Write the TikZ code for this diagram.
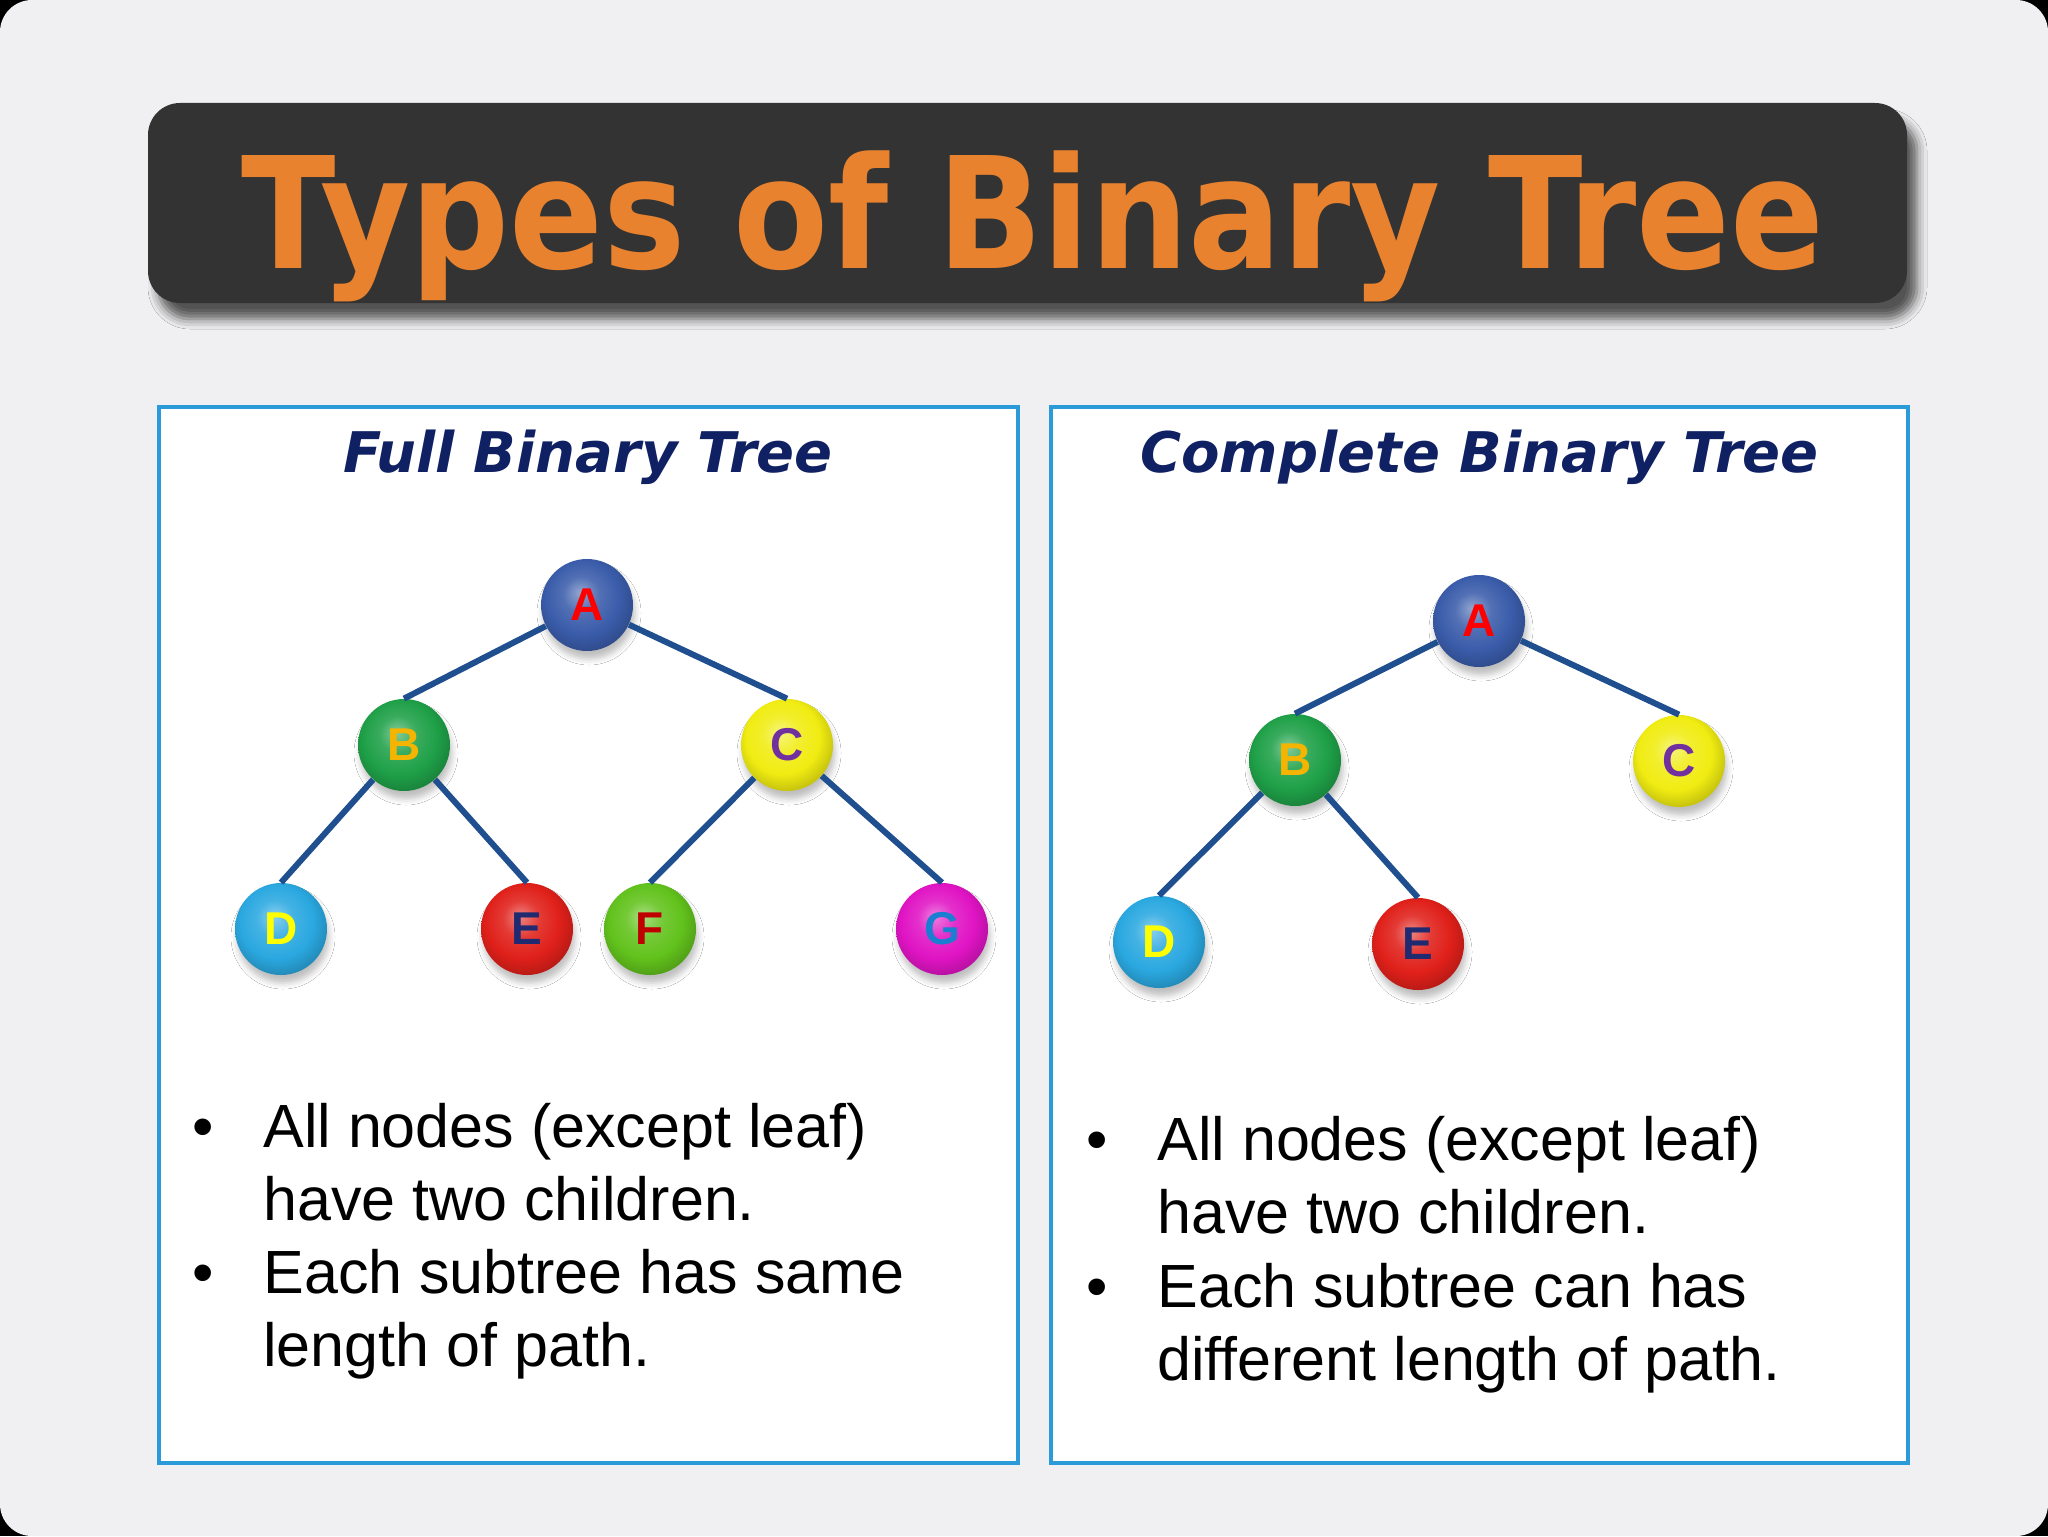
\documentclass[tikz,border=0pt]{standalone}
\usepackage{fontspec}
\usepackage{graphicx}
\setmainfont{Liberation Sans}
\newfontfamily\djv{DejaVu Sans}
\usetikzlibrary{shadows.blur}
\definecolor{bgc}{HTML}{F0F0F2}
\definecolor{barc}{HTML}{333333}
\definecolor{orangec}{HTML}{E8822E}
\definecolor{navyc}{HTML}{0F2063}
\definecolor{panelc}{HTML}{2A9BD8}
\definecolor{linec}{HTML}{1F4F8F}
\definecolor{cA}{HTML}{3A5CAA}
\definecolor{cB}{HTML}{1FA048}
\definecolor{cC}{HTML}{F0EC12}
\definecolor{cD}{HTML}{2AA8E0}
\definecolor{cE}{HTML}{E0201A}
\definecolor{cF}{HTML}{62C21C}
\definecolor{cG}{HTML}{E014C4}
\definecolor{tA}{HTML}{FF0000}
\definecolor{tB}{HTML}{F5B400}
\definecolor{tC}{HTML}{7030A0}
\definecolor{tD}{HTML}{FFFF00}
\definecolor{tE}{HTML}{1F2A70}
\definecolor{tF}{HTML}{C00000}
\definecolor{tG}{HTML}{1A7FD0}
\colorlet{ballc}{gray}
\pgfdeclareradialshading[ballc]{softball}{\pgfpoint{-4bp}{7bp}}{%
  color(0bp)=(ballc!55!white); color(10bp)=(ballc!88!white);
  color(20bp)=(ballc); color(27bp)=(ballc!85!black);
  color(34bp)=(ballc!70!black); color(50bp)=(ballc!70!black)}
\tikzset{
  ball/.style={circle, minimum size=46pt, inner sep=0pt,
    font=\bfseries\fontsize{23}{23}\selectfont,
    /utils/exec={\colorlet{ballc}{#1}}, shading=softball,
    blur shadow={shadow xshift=1pt, shadow yshift=-4pt, shadow blur radius=3pt, shadow opacity=25}},
  treeline/.style={draw=linec, line width=3pt},
  panel/.style={draw=panelc, line width=2pt, fill=white},
  paneltitle/.style={anchor=base, text=navyc, font=\djv\bfseries\itshape\fontsize{28}{30}\selectfont},
  titletext/.style={anchor=base, text=orangec, font=\djv\bfseries\fontsize{77.5}{80}\selectfont},
  bodytext/.style={anchor=base west, text=black, font=\fontsize{30.5}{36}\selectfont, inner sep=0pt},
  bullet/.style={anchor=base, text=black, font=\fontsize{30.5}{36}\selectfont, inner sep=0pt}
}
\begin{document}
\begin{tikzpicture}[x=0.5pt,y=-0.5pt]
\useasboundingbox (0,0) rectangle (2048,1536);
\fill[black] (0,0) rectangle (2048,1536);
\fill[bgc, rounded corners=16pt] (0,0) rectangle (2048,1536);
% title bar
\fill[barc, rounded corners=16pt, blur shadow={shadow xshift=5pt, shadow yshift=-8pt, shadow blur radius=5pt, shadow opacity=65}] (148,103) rectangle (1907,303);
\node[titletext] (title) at (1033,268) {\scalebox{0.893}[1]{Types of Binary Tree}};
% panels
\draw[panel] (159,407) rectangle (1018,1463);
\draw[panel] (1051,407) rectangle (1908,1463);
\node[paneltitle] (t1) at (588,472) {Full Binary Tree};
\node[paneltitle] (t2) at (1479.5,472) {Complete Binary Tree};
% left tree
\node[ball=cA, text=tA] (LA) at (587,605) {A};
\node[ball=cB, text=tB] (LB) at (404,745) {B};
\node[ball=cC, text=tC] (LC) at (787,745) {C};
\node[ball=cD, text=tD] (LD) at (281,929) {D};
\node[ball=cE, text=tE] (LE) at (527,929) {E};
\node[ball=cF, text=tF] (LF) at (650,929) {F};
\node[ball=cG, text=tG] (LG) at (942,929) {G};
\draw[treeline] (LA) -- (LB.north);
\draw[treeline] (LA) -- (LC.north);
\draw[treeline] (LB) -- (LD.north);
\draw[treeline] (LB) -- (LE.north);
\draw[treeline] (LC) -- (LF.north);
\draw[treeline] (LC) -- (LG.north);
% right tree
\node[ball=cA, text=tA] (RA) at (1479,621) {A};
\node[ball=cB, text=tB] (RB) at (1295,760) {B};
\node[ball=cC, text=tC] (RC) at (1679,761) {C};
\node[ball=cD, text=tD] (RD) at (1159,942) {D};
\node[ball=cE, text=tE] (RE) at (1418,944) {E};
\draw[treeline] (RA) -- (RB.north);
\draw[treeline] (RA) -- (RC.north);
\draw[treeline] (RB) -- (RD.north);
\draw[treeline] (RB) -- (RE.north);
% left text
\node[bullet] (lb1) at (203,1147) {•};
\node[bodytext] (l1) at (263,1147) {All nodes (except leaf)};
\node[bodytext] (l2) at (263,1220) {have two children.};
\node[bullet] (lb2) at (203,1293) {•};
\node[bodytext] (l3) at (263,1293) {Each subtree has same};
\node[bodytext] (l4) at (263,1366) {length of path.};
% right text
\node[bullet] (rb1) at (1097,1160) {•};
\node[bodytext] (r1) at (1157,1160) {All nodes (except leaf)};
\node[bodytext] (r2) at (1157,1233) {have two children.};
\node[bullet] (rb2) at (1097,1307) {•};
\node[bodytext] (r3) at (1157,1307) {Each subtree can has};
\node[bodytext] (r4) at (1157,1380) {different length of path.};
\end{tikzpicture}
\end{document}
